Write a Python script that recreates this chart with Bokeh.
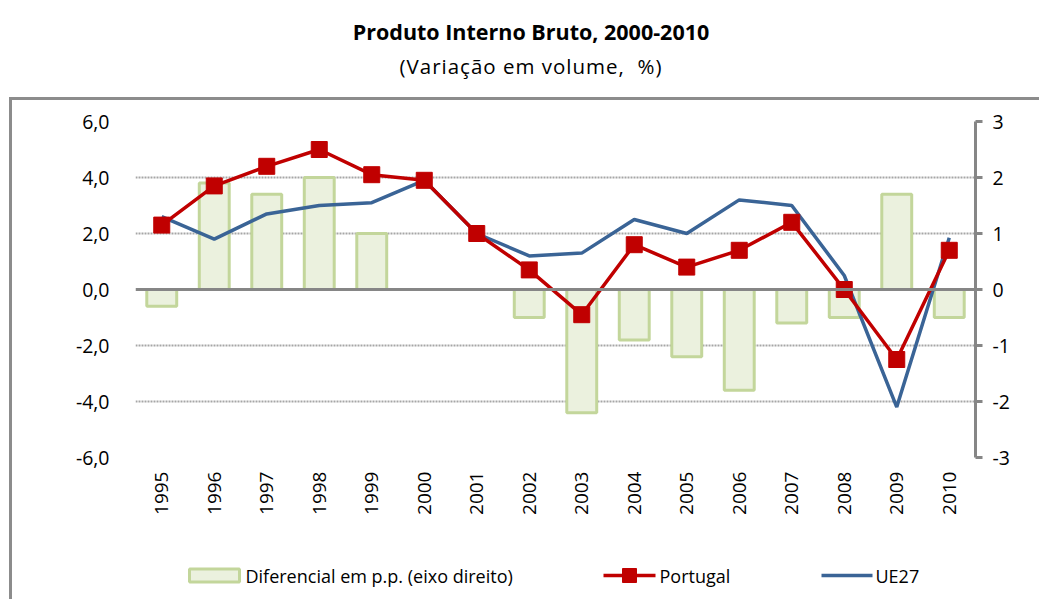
import math
from bokeh.plotting import figure
from bokeh.models import (Range1d, LinearAxis, FactorRange, FixedTicker, Span,
                          Div, ColumnDataSource)
from bokeh.core.properties import value
from bokeh.layouts import column
from bokeh.embed import file_html
from bokeh.resources import INLINE

years = ["1995", "1996", "1997", "1998", "1999", "2000", "2001", "2002",
         "2003", "2004", "2005", "2006", "2007", "2008", "2009", "2010"]
portugal = [2.3, 3.7, 4.4, 5.0, 4.1, 3.9, 2.0, 0.7, -0.9, 1.6, 0.8, 1.4, 2.4, 0.0, -2.5, 1.4]
ue27 = [2.6, 1.8, 2.7, 3.0, 3.1, 3.9, 2.0, 1.2, 1.3, 2.5, 2.0, 3.2, 3.0, 0.5, -4.2, 1.85]
diferencial = [-0.3, 1.9, 1.7, 2.0, 1.0, 0.0, 0.0, -0.5, -2.2, -0.9, -1.2, -1.8, -0.6, -0.5, 1.7, -0.5]

left_ticks = [-6, -4, -2, 0, 2, 4, 6]
left_labels = ["-6,0", "-4,0", "-2,0", "0,0", "2,0", "4,0", "6,0"]
right_ticks = [-3, -2, -1, 0, 1, 2, 3]
right_labels = ["-3", "-2", "-1", "0", "1", "2", "3"]
legend_labels = ["Diferencial em p.p. (eixo direito)", "Portugal", "UE27"]

FONT = "Open Sans"
GRID = "#A6A6A6"
AXIS = "#868686"
BAR_FILL = "#EBF1DE"
BAR_LINE = "#C3D69B"
RED = "#C00000"
BLUE = "#3A6496"
BORDER = "3px solid #8C8C8C"

src = ColumnDataSource(dict(year=years, pt=portugal, ue=ue27, dif=diferencial))

p = figure(x_range=FactorRange(*years, range_padding=0), y_range=Range1d(-6, 6),
           width=1030, height=432, output_backend="svg", toolbar_location=None,
           min_border_left=123, min_border_right=67, min_border_top=21, min_border_bottom=75)
p.outline_line_color = None
p.xgrid.grid_line_color = None
p.ygrid.ticker = FixedTicker(ticks=[-6, -4, -2, 2, 4, 6])
p.ygrid.grid_line_color = GRID
p.ygrid.grid_line_width = 2
p.ygrid.grid_line_dash = "2 1"

p.extra_y_ranges = {"right": Range1d(-3, 3)}

# left axis
ya = p.yaxis[0]
ya.ticker = FixedTicker(ticks=left_ticks)
ya.major_label_overrides = dict(zip(left_ticks, left_labels))
ya.axis_line_color = None
ya.major_tick_line_color = None
ya.minor_tick_line_color = None
ya.major_label_standoff = 20
ya.major_label_text_font = FONT
ya.major_label_text_font_size = "19.5px"
ya.major_label_text_color = "#000000"

# right axis
ra = LinearAxis(y_range_name="right", ticker=FixedTicker(ticks=right_ticks))
ra.major_label_overrides = dict(zip(right_ticks, right_labels))
ra.axis_line_color = AXIS
ra.axis_line_width = 3
ra.major_tick_line_color = AXIS
ra.major_tick_line_width = 3
ra.major_tick_in = 0
ra.major_tick_out = 7
ra.minor_tick_line_color = None
ra.major_label_standoff = 10
ra.major_label_text_font = FONT
ra.major_label_text_font_size = "19.5px"
ra.major_label_text_color = "#000000"
p.add_layout(ra, "right")

# x axis
xa = p.xaxis[0]
xa.axis_line_color = None
xa.major_tick_line_color = None
xa.minor_tick_line_color = None
xa.major_label_orientation = math.pi / 2
xa.major_label_standoff = 8
xa.major_label_text_font = FONT
xa.major_label_text_font_size = "19px"
xa.major_label_text_color = "#000000"

p.vbar(x="year", top="dif", bottom=0, width=0.57, source=src, y_range_name="right",
       fill_color=BAR_FILL, line_color=BAR_LINE, line_width=3)

p.add_layout(Span(location=0, dimension="width", line_color=AXIS, line_width=3))

p.line(x="year", y="ue", source=src, line_color=BLUE, line_width=3.5)
p.line(x="year", y="pt", source=src, line_color=RED, line_width=3.5)
p.scatter(x="year", y="pt", source=src, marker="square", size=16,
          fill_color=RED, line_color=RED)

# legend strip drawn below the chart; its frame is aligned with the chart frame,
# so the x range is set in page pixels (frame spans 135..975)
lf = figure(width=1030, height=70, output_backend="svg", toolbar_location=None,
            x_range=Range1d(135, 975), y_range=Range1d(0, 70),
            x_axis_type=None, y_axis_type=None,
            min_border_left=0, min_border_right=0, min_border_top=0, min_border_bottom=0)
lf.outline_line_color = None
lf.grid.visible = False
ly = 24
lf.rect(x=[214], y=[ly], width=50, height=13, fill_color=BAR_FILL,
        line_color=BAR_LINE, line_width=3)
lf.line(x=[603, 655], y=[ly, ly], line_color=RED, line_width=3.5)
lf.scatter(x=[629], y=[ly], marker="square", size=14, fill_color=RED, line_color=RED)
lf.line(x=[821, 872], y=[ly, ly], line_color=BLUE, line_width=3.5)
lf.text(x=[245, 659, 875], y=[ly, ly, ly], text=legend_labels,
        text_font=value(FONT), text_font_size="18px", text_color="#000000",
        text_baseline="middle", text_align="left")

title = Div(text=(
    '<div style="width:1038px;text-align:center;font-family:\'Open Sans\';color:#000;position:relative;left:7px;">'
    '<div style="font-weight:bold;font-size:21.5px;margin-top:12px;">Produto Interno Bruto, 2000-2010</div>'
    '<div style="font-size:20.5px;margin-top:4px;letter-spacing:1px;">(Variação em volume,&nbsp; %)</div></div>'),
    width=1038, height=87)

p.margin = (0, 0, 0, 9)
lf.margin = (0, 0, 0, 9)
p.styles = {"border-top": BORDER, "border-left": BORDER}
lf.styles = {"border-left": BORDER}

layout = column(title, p, lf, spacing=0)
open("out.html", "w").write(file_html(layout, INLINE))
